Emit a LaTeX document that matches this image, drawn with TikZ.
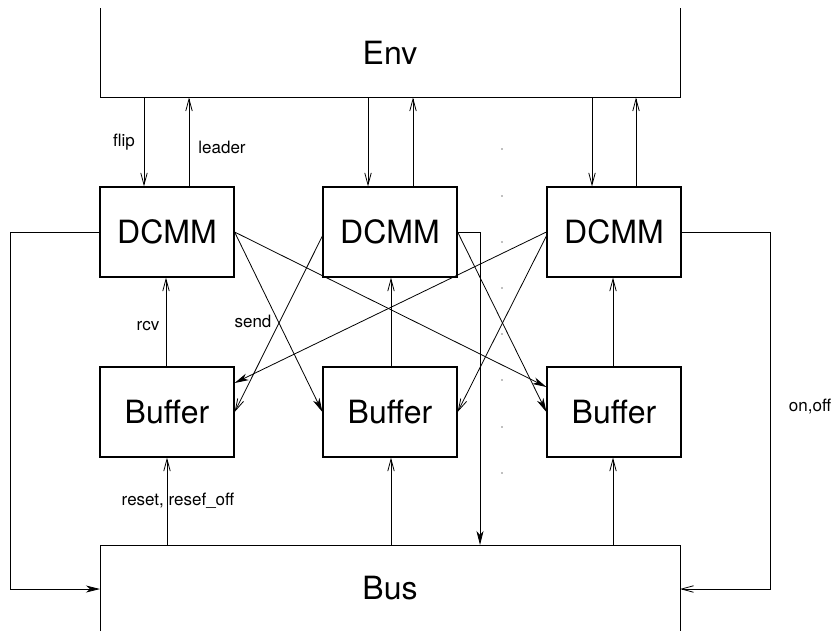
\documentclass[tikz,border=0pt]{standalone}
\usepackage{fontspec}
\setmainfont{TeX Gyre Heros}
\usetikzlibrary{arrows.meta,calc}
\begin{document}
\begin{tikzpicture}[x=1pt,y=-1pt,
  box/.style={draw, line width=1.2pt, minimum width=134pt, minimum height=90pt, inner sep=0pt, font=\fontsize{32}{38}\selectfont},
  frame/.style={minimum width=580pt, inner sep=0pt, outer sep=0pt, font=\fontsize{32}{38}\selectfont},
  lab/.style={font=\fontsize{17}{20}\selectfont, anchor=base, inner sep=0pt},
  wire/.style={line width=0.8pt},
  openarrow/.style={wire, -{Straight Barb[length=12pt,width=6.5pt]}},
  farrow/.style={wire, -{Stealth[length=14pt,width=7pt,inset=4pt]}}
]
\useasboundingbox (0,0) rectangle (834,633);

% big frames
\node[frame, minimum height=89.5pt] (env) at (390,52.75) {Env};
\draw[line width=0.9pt] (env.north west) -- (env.south west) -- (env.south east) -- (env.north east);
\node[frame, minimum height=86pt] (bus) at (390,588) {Bus};
\draw[line width=0.9pt] (bus.south west) -- (bus.north west) -- (bus.north east) -- (bus.south east);

% DCMM and Buffer boxes
\node[box] (dcmm1) at (167,232) {DCMM};
\node[box] (dcmm2) at (390,232) {DCMM};
\node[box] (dcmm3) at (614,232) {DCMM};
\node[box] (buf1) at (167,412) {Buffer};
\node[box] (buf2) at (390,412) {Buffer};
\node[box] (buf3) at (614,412) {Buffer};

% Env <-> DCMM
\draw[openarrow] (env.south -| 144,0) -- (dcmm1.north -| 144,0);
\draw[openarrow] (dcmm1.north -| 189,0) -- (env.south -| 189,0);
\draw[openarrow] (env.south -| 368,0) -- (dcmm2.north -| 368,0);
\draw[openarrow] (dcmm2.north -| 413,0) -- (env.south -| 413,0);
\draw[openarrow] (env.south -| 592,0) -- (dcmm3.north -| 592,0);
\draw[openarrow] (dcmm3.north -| 636,0) -- (env.south -| 636,0);

% Buffer -> DCMM
\draw[openarrow] (buf1.north -| 166,0) -- (dcmm1.south -| 166,0);
\draw[openarrow] (buf2.north -| 391,0) -- (dcmm2.south -| 391,0);
\draw[openarrow] (buf3.north -| 613,0) -- (dcmm3.south -| 613,0);

% Bus -> Buffer
\draw[openarrow] (bus.north -| 167,0) -- (buf1.south -| 167,0);
\draw[openarrow] (bus.north -| 391,0) -- (buf2.south -| 391,0);
\draw[openarrow] (bus.north -| 613,0) -- (buf3.south -| 613,0);

% crossing send arrows
\draw[farrow] (dcmm1.east) -- (buf2.west);
\draw[farrow] (dcmm1.east) -- ($(buf3.west)+(0,-25)$);
\draw[farrow] (dcmm2.east) -- (buf3.west);
\draw[farrow] (dcmm3.west) -- ($(buf1.east)+(0,-29)$);
\draw[openarrow] ($(dcmm2.west)+(0,4)$) -- (buf1.east);
\draw[openarrow] ($(dcmm3.west)+(0,4)$) -- (buf2.east);

% feedback lines to Bus
\coordinate (lc) at (10,589);
\coordinate (rc) at (770,589);
\coordinate (mc) at (480,232);
\draw[farrow] (dcmm1.west) -| (lc) -- (bus.west |- lc);
\draw[openarrow] (dcmm3.east) -| (rc) -- (bus.east |- rc);
\draw[farrow] (dcmm2.east) -- (mc) -- (bus.north -| mc);

% dots
\foreach \yy in {149,196,242,288,334,380,427,473} \fill[gray] (502,\yy) circle (0.8pt);

% labels
\node[lab] (lflip) at (124,146) {flip};
\node[lab] (lleader) at (222,153) {leader};
\node[lab] (lrcv) at (148,330) {rcv};
\node[lab] (lsend) at (253,327) {send};
\node[lab] (lreset) at (178,505) {reset, resef\_off};
\node[lab] (lonoff) at (810,411) {on,off};
\end{tikzpicture}
\end{document}
